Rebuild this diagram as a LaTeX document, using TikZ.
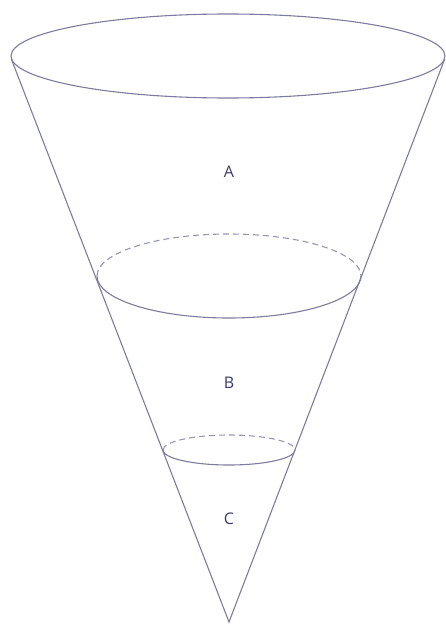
\documentclass[tikz,border=0pt]{standalone}
\usepackage{fontspec}
\setmainfont{Open Sans}
\definecolor{linecol}{HTML}{7C7C9C}
\definecolor{labcol}{HTML}{3B3B6B}
\begin{document}
\begin{tikzpicture}[x=1pt,y=-1pt,
  edge/.style={draw=linecol,line width=1.1pt},
  hidden/.style={draw=linecol!80,line width=1.1pt,dash pattern=on 6pt off 4pt},
  lab/.style={text=labcol,font=\fontsize{16}{18}\selectfont}]
\useasboundingbox (0,0) rectangle (446,626);
% apex
\coordinate (apex) at (229,622);
% top ellipse
\draw[edge] (228,56) ellipse[x radius=217, y radius=42];
\coordinate (tl) at (11.3,59);
\coordinate (tr) at (444.7,59);
% middle ellipse (back half dashed, front half solid)
\draw[edge] (361,276) arc[start angle=0,end angle=180,x radius=132,y radius=42];
\draw[hidden] (97,276) arc[start angle=180,end angle=360,x radius=132,y radius=42];
% small ellipse
\draw[edge] (295,450) arc[start angle=0,end angle=180,x radius=66,y radius=15];
\draw[hidden] (163,450) arc[start angle=180,end angle=360,x radius=66,y radius=15];
% sides
\draw[edge] (tl) -- (apex) -- (tr);
% labels
\node[lab] (A) at (229,172) {A};
\node[lab] (B) at (229,383) {B};
\node[lab] (C) at (229,519) {C};
\end{tikzpicture}
\end{document}
